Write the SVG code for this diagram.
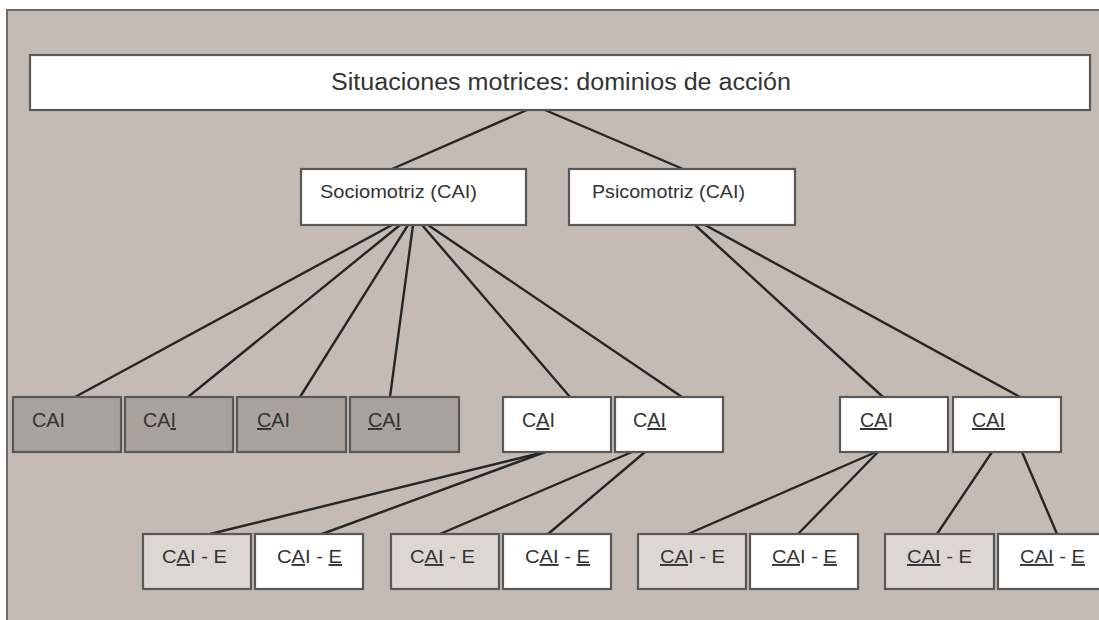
<svg xmlns="http://www.w3.org/2000/svg" width="1099" height="620" viewBox="0 0 1099 620">
<defs>
<style>
.bg{fill:#c4bbb5;stroke:#6e6a68;stroke-width:2}
.box{stroke:#585858;stroke-width:2.2}
.w{fill:#ffffff}
.d{fill:#aaa29d}
.l{fill:#ddd6d2}
.t{font-family:"Liberation Sans",Arial,sans-serif;fill:#333333}
.u{text-decoration:underline}
#connectors line{stroke:#262626;stroke-width:2.4;stroke-linecap:round}
</style>
</defs>
<rect width="1099" height="620" fill="#ffffff"/>
<rect class="bg" x="7" y="10" width="1100" height="620"/>

<g id="connectors">
<line x1="527" y1="110" x2="392" y2="169"/>
<line x1="545" y1="110" x2="683" y2="169"/>
<line x1="392" y1="225" x2="75" y2="397"/>
<line x1="400" y1="225" x2="188" y2="397"/>
<line x1="408" y1="225" x2="300" y2="397"/>
<line x1="413" y1="225" x2="390" y2="397"/>
<line x1="422" y1="225" x2="570" y2="397"/>
<line x1="428" y1="225" x2="682" y2="397"/>
<line x1="695" y1="225" x2="883" y2="397"/>
<line x1="705" y1="225" x2="1020" y2="397"/>
<line x1="545" y1="452" x2="210" y2="534"/>
<line x1="545" y1="452" x2="322" y2="534"/>
<line x1="632" y1="452" x2="440" y2="534"/>
<line x1="645" y1="452" x2="548" y2="534"/>
<line x1="876" y1="452" x2="688" y2="534"/>
<line x1="878" y1="452" x2="798" y2="534"/>
<line x1="992" y1="452" x2="937" y2="534"/>
<line x1="1022" y1="452" x2="1057" y2="534"/>
</g>

<g id="root">
<rect class="box w" x="30" y="55" width="1060" height="55"/>
<text class="t" x="331" y="90" font-size="23" textLength="460" lengthAdjust="spacingAndGlyphs">Situaciones motrices: dominios de acción</text>
</g>

<g id="socio">
<rect class="box w" x="301" y="169" width="225" height="56"/>
<text class="t" x="320" y="198" font-size="19" textLength="157" lengthAdjust="spacingAndGlyphs">Sociomotriz (CAI)</text>
</g>
<g id="psico">
<rect class="box w" x="569" y="169" width="226" height="56"/>
<text class="t" x="592" y="198" font-size="19" textLength="153" lengthAdjust="spacingAndGlyphs">Psicomotriz (CAI)</text>
</g>

<g id="r1-1">
<rect class="box d" x="13" y="397" width="108" height="55"/>
<text class="t" x="32" y="427" font-size="20" textLength="33" lengthAdjust="spacingAndGlyphs">CAI</text>
</g>
<g id="r1-2">
<rect class="box d" x="125" y="397" width="108" height="55"/>
<text class="t" x="143" y="427" font-size="20" textLength="33" lengthAdjust="spacingAndGlyphs">CA<tspan class="u">I</tspan></text>
</g>
<g id="r1-3">
<rect class="box d" x="237" y="397" width="109" height="55"/>
<text class="t" x="257" y="427" font-size="20" textLength="33" lengthAdjust="spacingAndGlyphs"><tspan class="u">C</tspan>AI</text>
</g>
<g id="r1-4">
<rect class="box d" x="350" y="397" width="109" height="55"/>
<text class="t" x="368" y="427" font-size="20" textLength="33" lengthAdjust="spacingAndGlyphs"><tspan class="u">C</tspan>A<tspan class="u">I</tspan></text>
</g>
<g id="r1-5">
<rect class="box w" x="503" y="397" width="108" height="55"/>
<text class="t" x="522" y="427" font-size="20" textLength="33" lengthAdjust="spacingAndGlyphs">C<tspan class="u">A</tspan>I</text>
</g>
<g id="r1-6">
<rect class="box w" x="615" y="397" width="108" height="55"/>
<text class="t" x="633" y="427" font-size="20" textLength="33" lengthAdjust="spacingAndGlyphs">C<tspan class="u">AI</tspan></text>
</g>
<g id="r1-7">
<rect class="box w" x="840" y="397" width="108" height="55"/>
<text class="t" x="860" y="427" font-size="20" textLength="33" lengthAdjust="spacingAndGlyphs"><tspan class="u">CA</tspan>I</text>
</g>
<g id="r1-8">
<rect class="box w" x="953" y="397" width="108" height="55"/>
<text class="t" x="972" y="427" font-size="20" textLength="33" lengthAdjust="spacingAndGlyphs"><tspan class="u">CAI</tspan></text>
</g>

<g id="r2-1">
<rect class="box l" x="143" y="534" width="108" height="55"/>
<text class="t" x="162" y="563" font-size="19" textLength="65" lengthAdjust="spacingAndGlyphs">C<tspan class="u">A</tspan>I - E</text>
</g>
<g id="r2-2">
<rect class="box w" x="255" y="534" width="108" height="55"/>
<text class="t" x="277" y="563" font-size="19" textLength="65" lengthAdjust="spacingAndGlyphs">C<tspan class="u">A</tspan>I - <tspan class="u">E</tspan></text>
</g>
<g id="r2-3">
<rect class="box l" x="391" y="534" width="108" height="55"/>
<text class="t" x="410" y="563" font-size="19" textLength="65" lengthAdjust="spacingAndGlyphs">C<tspan class="u">AI</tspan> - E</text>
</g>
<g id="r2-4">
<rect class="box w" x="503" y="534" width="108" height="55"/>
<text class="t" x="525" y="563" font-size="19" textLength="65" lengthAdjust="spacingAndGlyphs">C<tspan class="u">AI</tspan> - <tspan class="u">E</tspan></text>
</g>
<g id="r2-5">
<rect class="box l" x="638" y="534" width="108" height="55"/>
<text class="t" x="660" y="563" font-size="19" textLength="65" lengthAdjust="spacingAndGlyphs"><tspan class="u">CA</tspan>I - E</text>
</g>
<g id="r2-6">
<rect class="box w" x="750" y="534" width="108" height="55"/>
<text class="t" x="772" y="563" font-size="19" textLength="65" lengthAdjust="spacingAndGlyphs"><tspan class="u">CA</tspan>I - <tspan class="u">E</tspan></text>
</g>
<g id="r2-7">
<rect class="box l" x="885" y="534" width="109" height="55"/>
<text class="t" x="907" y="563" font-size="19" textLength="65" lengthAdjust="spacingAndGlyphs"><tspan class="u">CAI</tspan> - E</text>
</g>
<g id="r2-8">
<rect class="box w" x="998" y="534" width="108" height="55"/>
<text class="t" x="1020" y="563" font-size="19" textLength="65" lengthAdjust="spacingAndGlyphs"><tspan class="u">CAI</tspan> - <tspan class="u">E</tspan></text>
</g>
</svg>
